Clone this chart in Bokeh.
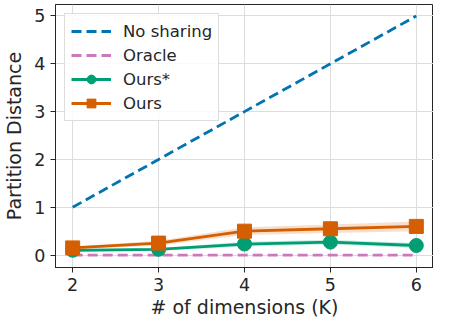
from bokeh.plotting import figure
from bokeh.models import ColumnDataSource, Legend, LegendItem, Range1d, FixedTicker
from bokeh.embed import file_html
from bokeh.resources import INLINE

K = [2, 3, 4, 5, 6]
no_sharing = [1, 2, 3, 4, 5]
oracle = [0, 0, 0, 0, 0]
ours_star = [0.10, 0.12, 0.23, 0.27, 0.20]
ours_star_lo = [0.07, 0.09, 0.18, 0.22, 0.15]
ours_star_hi = [0.13, 0.15, 0.28, 0.32, 0.25]
ours = [0.15, 0.25, 0.50, 0.55, 0.60]
ours_lo = [0.12, 0.20, 0.42, 0.46, 0.50]
ours_hi = [0.18, 0.30, 0.58, 0.64, 0.70]

BLUE = "#0173b2"
PINK = "#cc78bc"
GREEN = "#029e73"
ORANGE = "#d55e00"
FONT = "DejaVu Sans"

p = figure(width=433, height=320, output_backend="svg", toolbar_location=None,
           x_range=Range1d(1.8, 6.2), y_range=Range1d(-0.26, 5.24),
           min_border_left=5, min_border_right=0, min_border_top=4, min_border_bottom=4)

src = ColumnDataSource(dict(K=K, ns=no_sharing, orc=oracle, os=ours_star,
                            os_lo=ours_star_lo, os_hi=ours_star_hi,
                            o=ours, o_lo=ours_lo, o_hi=ours_hi))

p.varea(x="K", y1="os_lo", y2="os_hi", source=src, fill_color=GREEN, fill_alpha=0.2)
p.varea(x="K", y1="o_lo", y2="o_hi", source=src, fill_color=ORANGE, fill_alpha=0.2)

r_ns = p.line("K", "ns", source=src, line_color=BLUE, line_width=2.8, line_dash="10 5")
r_or = p.line("K", "orc", source=src, line_color=PINK, line_width=2.8, line_dash="10 5")
r_osl = p.line("K", "os", source=src, line_color=GREEN, line_width=2.8)
r_osm = p.scatter("K", "os", source=src, marker="circle", size=14, fill_color=GREEN, line_color=GREEN)
r_ol = p.line("K", "o", source=src, line_color=ORANGE, line_width=2.8)
r_om = p.scatter("K", "o", source=src, marker="square", size=14, fill_color=ORANGE, line_color=ORANGE)

legend = Legend(items=[
    LegendItem(label="No sharing", renderers=[r_ns]),
    LegendItem(label="Oracle", renderers=[r_or]),
    LegendItem(label="Ours*", renderers=[r_osl, r_osm]),
    LegendItem(label="Ours", renderers=[r_ol, r_om]),
], location="top_left")
legend.label_text_font = FONT
legend.label_text_font_size = "16.5px"
legend.label_text_color = "#262626"
legend.glyph_width = 40
legend.glyph_height = 22
legend.label_height = 22
legend.label_standoff = 12
legend.spacing = 2
legend.padding = 6
legend.margin = 9
legend.border_line_color = "#dddddd"
legend.border_line_alpha = 1.0
legend.background_fill_alpha = 0.85
p.add_layout(legend)

p.xaxis.ticker = FixedTicker(ticks=K)
p.yaxis.ticker = FixedTicker(ticks=[0, 1, 2, 3, 4, 5])
p.xaxis.axis_label = "# of dimensions (K)"
p.yaxis.axis_label = "Partition Distance"
for ax in (p.xaxis, p.yaxis):
    ax.axis_label_text_font = FONT
    ax.axis_label_text_font_size = "19px"
    ax.axis_label_text_font_style = "normal"
    ax.axis_label_text_color = "#262626"
    ax.major_label_text_font = FONT
    ax.major_label_text_font_size = "17.5px"
    ax.major_label_text_color = "#262626"
    ax.minor_tick_line_color = None
    ax.major_tick_out = 5
    ax.major_tick_in = 0
    ax.axis_line_color = "#262626"
    ax.major_tick_line_color = "#262626"
p.xaxis.axis_label_standoff = 2
p.yaxis.axis_label_standoff = 6

p.grid.grid_line_color = "#dddddd"
p.grid.grid_line_width = 1
p.outline_line_color = "#262626"
p.outline_line_width = 1

open("out.html", "w").write(file_html(p, INLINE))
